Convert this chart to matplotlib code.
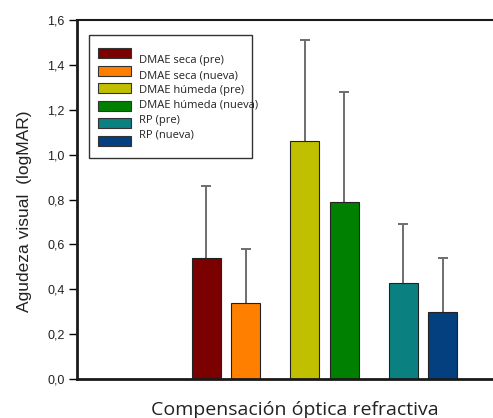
import matplotlib
matplotlib.use("Agg")
import matplotlib.pyplot as plt
from matplotlib.patches import Rectangle
import numpy as np

# agudeza visual media (logMAR) y desviacion por grupo
labels = ["DMAE seca (pre)", "DMAE seca (nueva)", "DMAE húmeda (pre)",
          "DMAE húmeda (nueva)", "RP (pre)", "RP (nueva)"]
means = [0.54, 0.34, 1.06, 0.79, 0.43, 0.30]
errs = [0.32, 0.24, 0.45, 0.49, 0.26, 0.24]
colors = ["#7b0000", "#ff8000", "#c0c000", "#008000", "#0a8080", "#043f80"]
yticks = [0.0, 0.2, 0.4, 0.6, 0.8, 1.0, 1.2, 1.4, 1.6]

W, H = 493, 418
fig = plt.figure(figsize=(W / 100, H / 100), dpi=100)
ax = fig.add_axes([77 / W, 39 / H, 1 - 77 / W, (379 - 20) / H])

# tres grupos, dos barras por grupo
group = np.repeat([1, 2, 3], 2)
offset = np.tile([-0.2, 0.2], 3)
xpos = group + offset
ax.bar(xpos, means, width=0.295, color=colors, edgecolor="#222222",
       linewidth=0.8, zorder=2)
_, caps, _ = ax.errorbar(xpos, means, yerr=[np.zeros(6), errs], fmt="none",
                         ecolor="#6e6e6e", elinewidth=1.4, capsize=3.7,
                         capthick=1.4, zorder=1)
caps[0].set_visible(False)  # solo la barra superior

ax.set_xlim(-0.51, 3.71)
ax.set_ylim(0, 1.6)
ax.set_xticks([])
ax.set_yticks(yticks)
ax.set_yticklabels([f"{v:.1f}".replace(".", ",") for v in yticks],
                   fontsize=9, family="Liberation Sans", color="#222222")
ax.tick_params(axis="y", direction="out", length=6, width=1, pad=3)
ax.spines["right"].set_visible(False)
ax.spines["left"].set_linewidth(2)
ax.spines["bottom"].set_linewidth(2)
ax.spines["top"].set_linewidth(1.5)
for s in ax.spines.values():
    s.set_color("#1a1a1a")

fig.text(25 / W, 1 - 211 / H, "Agudeza visual  (logMAR)", rotation=90,
         ha="center", va="center", fontsize=12.5, family="Liberation Sans",
         color="#222222")
fig.text(295 / W, 1 - 410 / H, "Compensación óptica refractiva",
         ha="center", va="center", fontsize=14, family="Open Sans",
         color="#222222")

# leyenda dibujada a mano en pixeles de la figura
def px(x, y):
    return x / W, 1 - y / H

bx0, by0 = px(89, 158)
fig.add_artist(Rectangle((bx0, by0), (252 - 89) / W, (158 - 35) / H,
                         transform=fig.transFigure, facecolor="white",
                         edgecolor="#333333", linewidth=1, zorder=5))
for i, (lab, c) in enumerate(zip(labels, colors)):
    py = 53 + 17.5 * i
    x0, y0 = px(98, py + 5)
    fig.add_artist(Rectangle((x0, y0), 33 / W, 10 / H,
                             transform=fig.transFigure, facecolor=c,
                             edgecolor="#333333", linewidth=0.8, zorder=6))
    tx, ty = px(139, 61 + 14.8 * i)
    fig.text(tx, ty, lab, ha="left", va="center", fontsize=8,
             family="Open Sans", color="#222222", zorder=7)

fig.savefig("out.png", dpi=100)
